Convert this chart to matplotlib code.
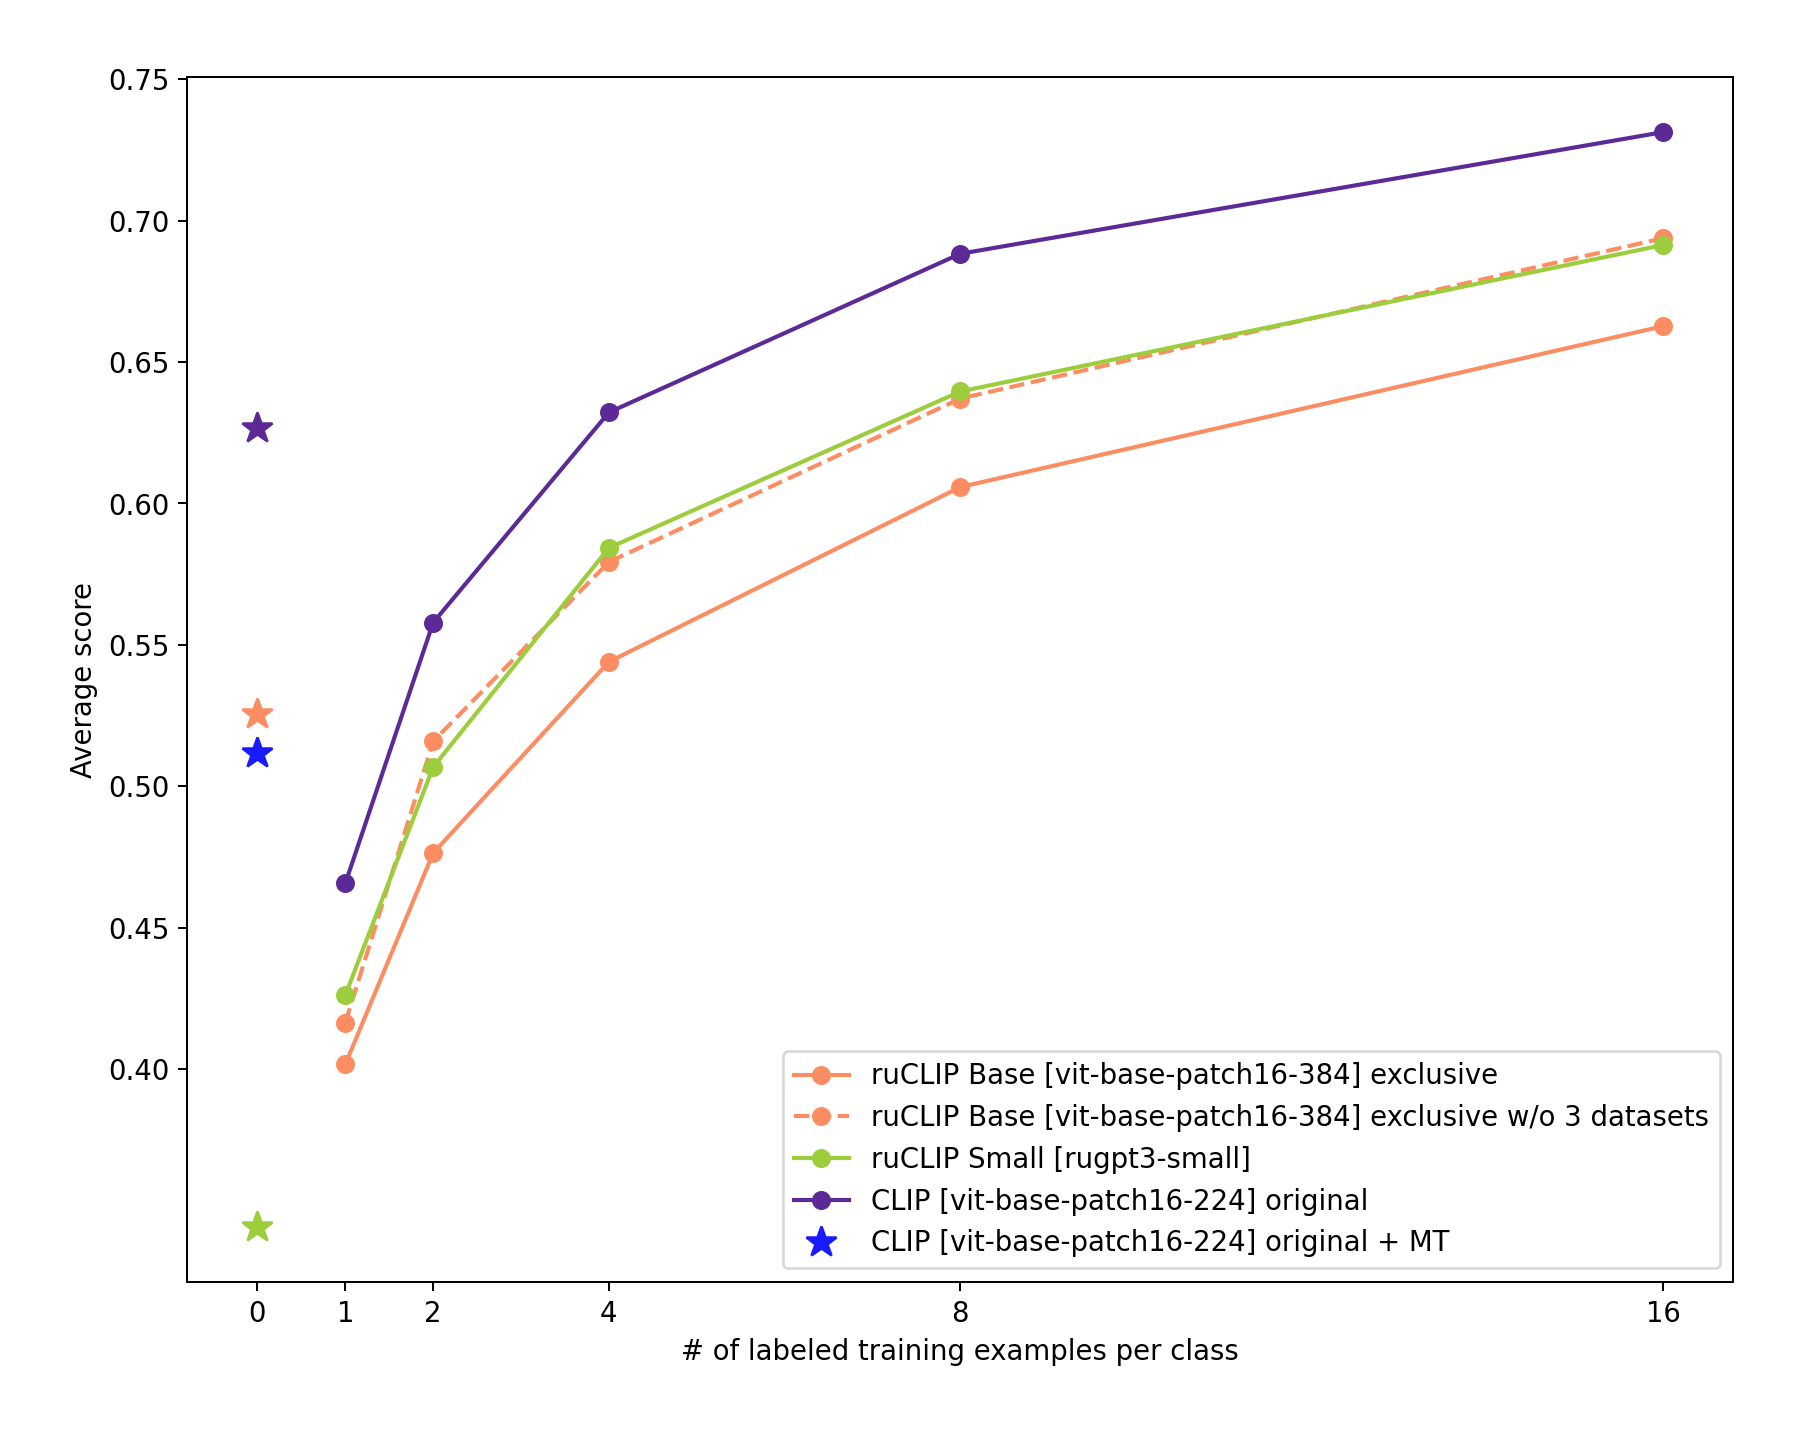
import matplotlib
matplotlib.use("Agg")
import matplotlib.pyplot as plt

shots = [1, 2, 4, 8, 16]
xticks = [0, 1, 2, 4, 8, 16]
yticks = [0.40, 0.45, 0.50, 0.55, 0.60, 0.65, 0.70, 0.75]

base_excl = [0.4017, 0.4764, 0.5440, 0.6058, 0.6627]
base_excl_wo3 = [0.4164, 0.5159, 0.5793, 0.6371, 0.6938]
small = [0.4262, 0.5068, 0.5843, 0.6396, 0.6914]
clip_orig = [0.4657, 0.5579, 0.6322, 0.6883, 0.7313]

# zero-shot results at x=0
zs_base = 0.5257
zs_small = 0.3441
zs_clip = 0.6268
zs_clip_mt = 0.5119

c_orange = '#fc8d62'
c_green = '#9ccd3c'
c_purple = '#5c2a96'
c_blue = '#1a1aff'

plt.rcParams['font.size'] = 11
plt.rcParams['lines.linewidth'] = 1.65
plt.rcParams['lines.markersize'] = 6.6

fig = plt.figure(figsize=(10, 7.967), dpi=180)
ax = fig.add_axes([0.104, 0.106, 0.859, 0.840])

ax.plot(shots, base_excl, marker='o', color=c_orange, label='ruCLIP Base [vit-base-patch16-384] exclusive')
ax.plot(shots, base_excl_wo3, marker='o', linestyle='--', color=c_orange,
        label='ruCLIP Base [vit-base-patch16-384] exclusive w/o 3 datasets')
ax.plot(shots, small, marker='o', color=c_green, label='ruCLIP Small [rugpt3-small]')
ax.plot(shots, clip_orig, marker='o', color=c_purple, label='CLIP [vit-base-patch16-224] original')

star = 13
ax.plot([0], [zs_base], marker='*', markersize=star, linestyle='none', color=c_orange)
ax.plot([0], [zs_small], marker='*', markersize=star, linestyle='none', color=c_green)
ax.plot([0], [zs_clip], marker='*', markersize=star, linestyle='none', color=c_purple)
ax.plot([0], [zs_clip_mt], marker='*', markersize=star, linestyle='none', color=c_blue,
        label='CLIP [vit-base-patch16-224] original + MT')

ax.set_xticks(xticks)
ax.set_yticks(yticks)
ax.set_xlabel('# of labeled training examples per class')
ax.set_ylabel('Average score')
ax.legend(loc='lower right')

plt.savefig('out.png', dpi=180)
